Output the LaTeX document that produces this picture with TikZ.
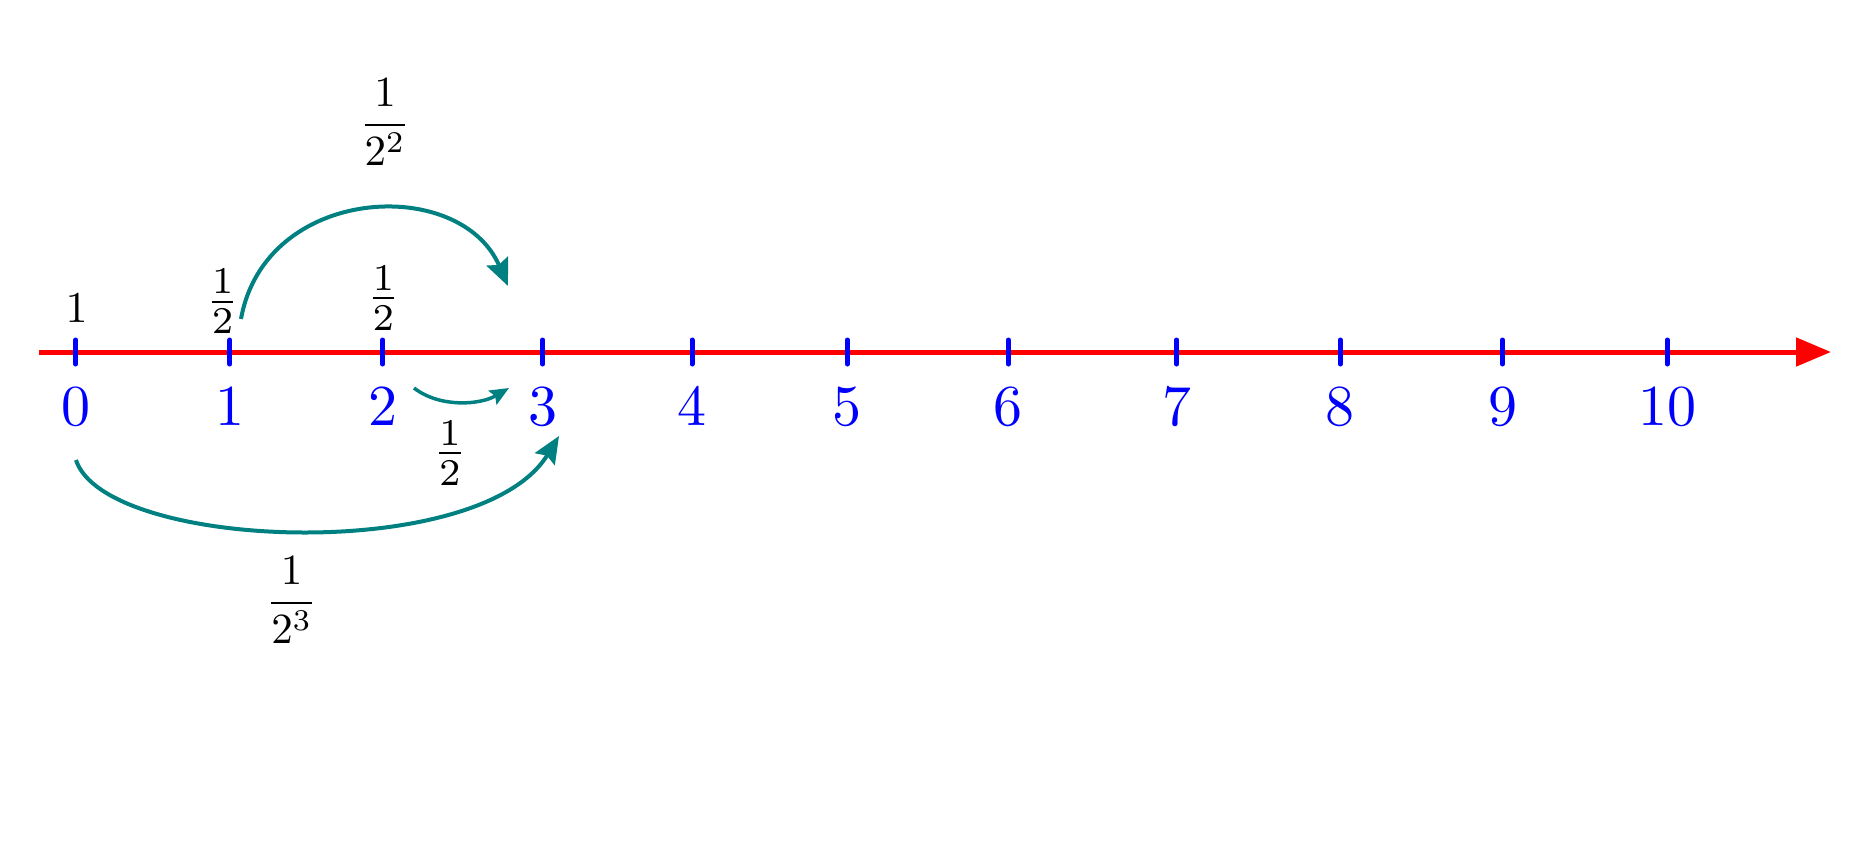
\documentclass[tikz,border=0pt]{standalone}
\usepackage{amsmath}
\usepackage{graphicx}
\usetikzlibrary{arrows.meta}
\definecolor{jumpteal}{RGB}{0,128,128}
\newcommand{\ticknum}[1]{\scalebox{5.8}{$#1$}}
\newcommand{\smallval}[1]{\scalebox{4.4}{$#1$}}
\newcommand{\halfval}[1]{\scalebox{5.4}{$#1$}}
\newcommand{\bigval}[1]{\scalebox{4.3}{$#1$}}
\begin{document}
\begin{tikzpicture}[x=1pt,y=-1pt,
	axislabel/.style={text=blue,inner sep=0pt},
	valuelabel/.style={inner sep=0pt},
	jump/.style={jumpteal,line width=4pt,-{Stealth[length=27pt,width=23pt,inset=4pt]}}]
		\useasboundingbox (0,0) rectangle (1858,846);
		\draw[red,line width=5pt,-{Triangle[length=35pt,width=28pt]}] (39,352)--(1831,352);
		\foreach \x/\n in {75.8/0,229.9/1,382.7/2,542.7/3,692/4,847.2/5,1008.4/6,1176.7/7,1340.2/8,1502.5/9,1667.2/10}{
			\draw[blue,line width=5pt,line cap=round] (\x,340)--(\x,364);
			\node[axislabel] (n\n) at (\x,406.7) {\ticknum{\n}};
		}
		
		\node[valuelabel] (one) at (76.7,308) {\smallval{1}};
		\node[valuelabel] (h1) at (222.7,301.7) {\halfval{\frac12}};
		\node[valuelabel] (h2) at (383.3,298) {\halfval{\frac12}};
		\node[valuelabel] (h3) at (450,453) {\halfval{\frac12}};
		\node[valuelabel] (q2) at (385,122) {\bigval{\dfrac{1}{2^2}}};
		\node[valuelabel] (q3) at (291.7,600) {\bigval{\dfrac{1}{2^3}}};
		
		\coordinate (a1) at (241,319);
		\coordinate (a3) at (508,286);
		\coordinate (b2) at (414,388);
		\coordinate (b3) at (509,388);
		\coordinate (c0) at (76,460);
		\coordinate (c3) at (559,436);
		\draw[jump] (a1) .. controls (265,185) and (460,175) .. (a3);
		\draw[jump,line width=3.5pt,-{Stealth[length=19pt,width=16pt,inset=3pt]}] (b2) .. controls (440,408) and (480,405) .. (b3);
		\draw[jump] (c0) .. controls (105,550) and (480,565) .. (c3);
\end{tikzpicture}
\end{document}
